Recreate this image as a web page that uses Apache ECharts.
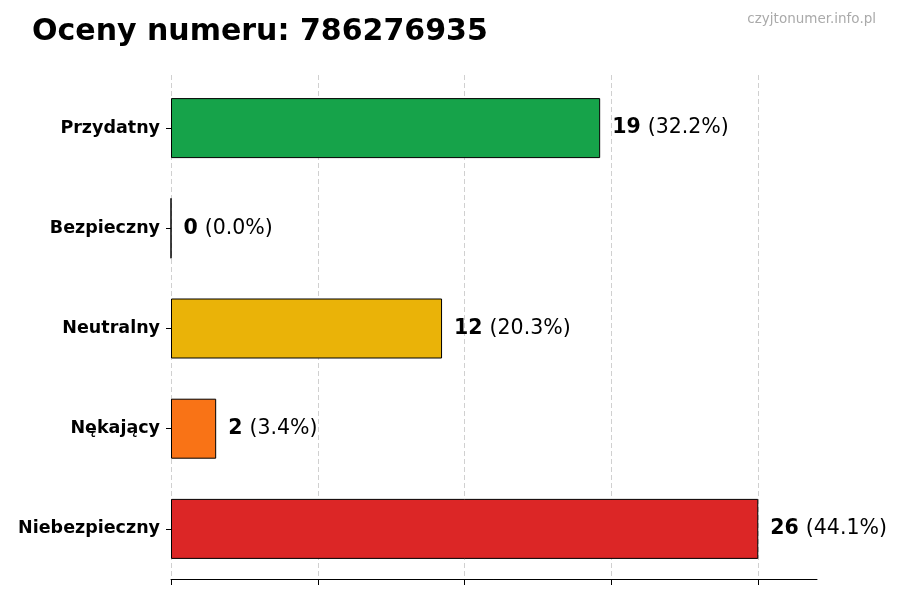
<!doctype html>
<html lang="pl">
<head>
<meta charset="utf-8">
<script src="https://cdn.jsdelivr.net/npm/echarts@6/dist/echarts.min.js"></script>
<style>
  html, body { margin: 0; padding: 0; background: #fff; }
  #chart { width: 900px; height: 600px; }
</style>
</head>
<body>
<div id="chart"></div>
<script>
var categories = ['Przydatny', 'Bezpieczny', 'Neutralny', 'Nękający', 'Niebezpieczny'];
var counts = [19, 0, 12, 2, 26];
var colors = ['#16a34a', '#8c8c8c', '#eab308', '#f97316', '#dc2626'];
var gridTicks = [0, 6.5, 13, 19.5, 26];

var total = counts.reduce(function (a, b) { return a + b; }, 0);
var maxCount = Math.max.apply(null, counts);
var font = 'DejaVu Sans';

var chart = echarts.init(document.getElementById('chart'));

var barData = counts.map(function (v, i) {
  return { value: v, itemStyle: { color: colors[i] } };
});

chart.setOption({
  animation: false,
  textStyle: { fontFamily: font },
  title: [{
    text: 'Oceny numeru: 786276935',
    left: 27, top: 12,
    textStyle: { fontFamily: font, fontSize: 30, fontWeight: 'bold', color: '#000' }
  }, {
    text: 'czyjtonumer.info.pl',
    right: 19, top: 7,
    textStyle: { fontFamily: font, fontSize: 13.5, fontWeight: 'normal', color: '#aaaaaa' }
  }],
  grid: [
    { left: 171, right: 83, top: 78, bottom: 21 },
    { left: 171, right: 142, top: 75, bottom: 21 }
  ],
  xAxis: [{
    gridIndex: 0, type: 'value', min: 0, max: maxCount * 1.1,
    axisLine: { show: true, lineStyle: { color: '#000', width: 1 } },
    axisTick: { show: false }, axisLabel: { show: false }, splitLine: { show: false }
  }, {
    gridIndex: 1, type: 'value', min: gridTicks[0], max: gridTicks[gridTicks.length - 1],
    interval: gridTicks[1] - gridTicks[0],
    axisLine: { show: false },
    axisTick: { show: true, length: 6, lineStyle: { color: '#000' } },
    axisLabel: { show: false },
    splitLine: { show: true, lineStyle: { color: '#d0d0d0', type: [5, 3], width: 1 } }
  }],
  yAxis: [{
    gridIndex: 0, type: 'category', data: categories, inverse: true,
    axisLine: { show: false },
    axisTick: { show: true, alignWithLabel: true, length: 5, lineStyle: { color: '#000' } },
    axisLabel: { margin: 11, fontFamily: font, fontSize: 17.5, fontWeight: 'bold', color: '#000' }
  }, {
    gridIndex: 1, type: 'value', show: false
  }],
  series: [{
    type: 'bar',
    xAxisIndex: 0, yAxisIndex: 0,
    data: barData,
    barWidth: 60,
    itemStyle: { borderColor: '#000', borderWidth: 1 },
    label: {
      show: true, position: 'right', distance: 12,
      formatter: function (p) {
        return '{b|' + p.value + '}{s| }{n|(' + (p.value / total * 100).toFixed(1) + '%)}';
      },
      rich: {
        b: { fontFamily: font, fontSize: 20.5, fontWeight: 'bold', color: '#000' },
        s: { fontFamily: font, fontSize: 20.5, width: 7 },
        n: { fontFamily: font, fontSize: 20.5, color: '#000' }
      }
    }
  }]
});
</script>
</body>
</html>
